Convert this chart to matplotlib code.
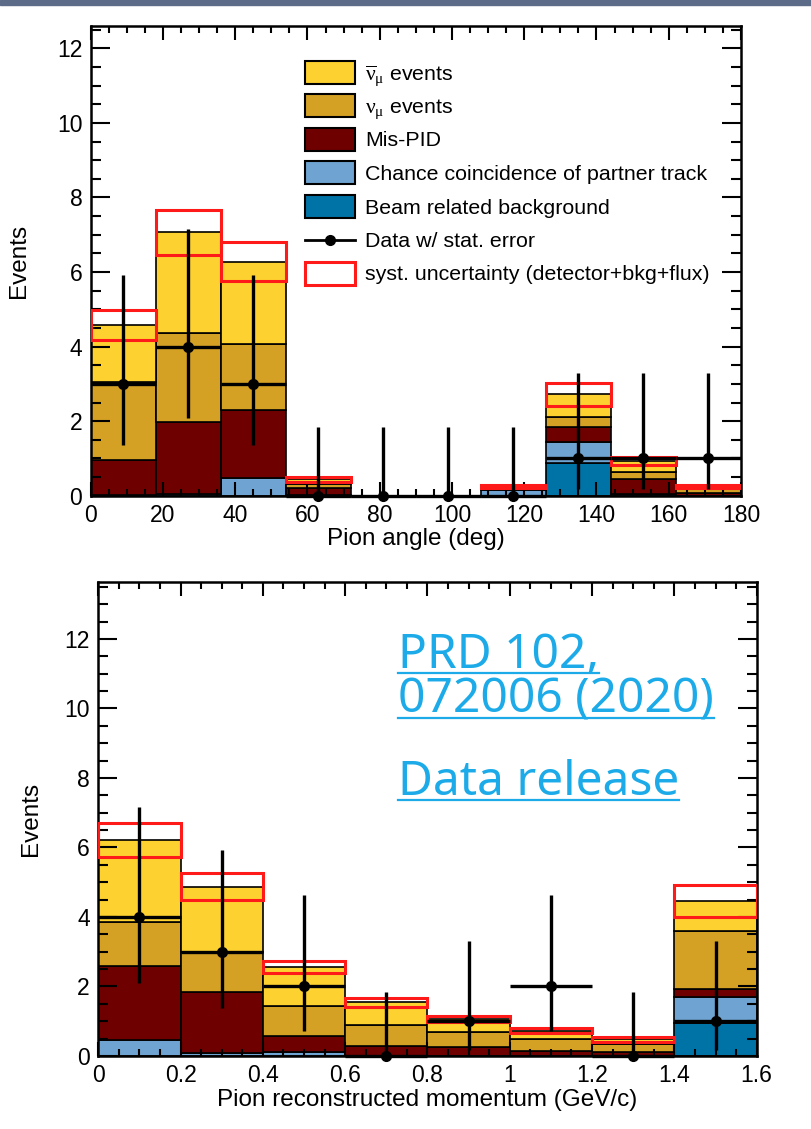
import matplotlib
matplotlib.use("Agg")
import matplotlib.pyplot as plt
from matplotlib.patches import Rectangle
from matplotlib.lines import Line2D
from matplotlib.ticker import MultipleLocator, FormatStrFormatter
import numpy as np

plt.rcParams['font.family'] = ['Liberation Sans', 'DejaVu Sans']
# upright greek for the neutrino labels
plt.rcParams['mathtext.fontset'] = 'custom'
plt.rcParams['mathtext.rm'] = 'Liberation Serif'
plt.rcParams['mathtext.it'] = 'Liberation Serif'

# --- pion angle (deg), 18 deg bins ---
angle_edges = [0, 18, 36, 54, 72, 90, 108, 126, 144, 162, 180]
angle_beam = [0, 0, 0, 0, 0, 0, 0, 0.87, 0.05, 0]
angle_chance = [0.02, 0.05, 0.48, 0.02, 0, 0, 0.15, 0.58, 0, 0]
angle_mispid = [0.94, 1.94, 1.82, 0.20, 0, 0, 0.02, 0.40, 0.40, 0.08]
angle_numu = [2.09, 2.38, 1.77, 0.10, 0, 0, 0.03, 0.27, 0.20, 0.09]
angle_numubar = [1.53, 2.70, 2.21, 0.12, 0, 0, 0.05, 0.60, 0.28, 0.08]
angle_syst = [0.40, 0.60, 0.52, 0.07, 0, 0, 0.04, 0.30, 0.11, 0.04]
angle_data = [3, 4, 3, 0, 0, 0, 0, 1, 1, 1]
angle_err_lo = [1.63, 1.91, 1.63, 0, 0, 0, 0, 0.83, 0.83, 0.83]
angle_err_hi = [2.92, 3.16, 2.92, 1.84, 1.84, 1.84, 1.84, 2.30, 2.30, 2.30]

# --- pion reconstructed momentum (GeV/c), 0.2 bins ---
mom_edges = [0, 0.2, 0.4, 0.6, 0.8, 1.0, 1.2, 1.4, 1.6]
mom_beam = [0, 0, 0, 0, 0, 0, 0, 0.94]
mom_chance = [0.46, 0.08, 0.10, 0, 0, 0, 0, 0.77]
mom_mispid = [2.14, 1.75, 0.48, 0.29, 0.27, 0.15, 0.10, 0.22]
mom_numu = [1.25, 1.17, 0.87, 0.60, 0.43, 0.33, 0.25, 1.68]
mom_numubar = [2.37, 1.87, 1.12, 0.65, 0.37, 0.25, 0.13, 0.85]
mom_syst = [0.49, 0.39, 0.17, 0.12, 0.09, 0.075, 0.07, 0.45]
mom_data = [4, 3, 2, 0, 1, 2, 0, 1]
mom_err_lo = [1.91, 1.63, 1.29, 0, 0.83, 1.29, 0, 0.83]
mom_err_hi = [3.16, 2.92, 2.64, 1.84, 2.30, 2.64, 1.84, 2.30]

legend_labels = [r'$\overline{\nu}_{\mu}$ events',
                 r'$\nu_{\mu}$ events', 'Mis-PID',
                 'Chance coincidence of partner track',
                 'Beam related background', 'Data w/ stat. error',
                 'syst. uncertainty (detector+bkg+flux)']

c_numubar = '#fdd12f'
c_numu = '#d4a124'
c_mispid = '#6e0000'
c_chance = '#6fa4d2'
c_beam = '#0073a6'
c_syst = '#ff1a1a'

W, H = 811, 1129


def draw_panel(ax, edges, comps, syst, data, err_lo, err_hi):
    edges = np.asarray(edges, dtype=float)
    centers = 0.5 * (edges[1:] + edges[:-1])
    widths = np.diff(edges)
    bottom = np.zeros(len(centers))
    for vals, col in comps:
        vals = np.asarray(vals, dtype=float)
        ax.bar(centers, vals, width=widths, bottom=bottom, color=col,
               edgecolor='black', linewidth=1.2, zorder=1)
        bottom = bottom + vals
    syst = np.asarray(syst, dtype=float)
    has = syst > 0
    ax.bar(centers[has], 2 * syst[has], width=widths[has],
           bottom=bottom[has] - syst[has], fill=False,
           edgecolor=c_syst, linewidth=2.2, zorder=3)
    ax.errorbar(centers, data, yerr=[err_lo, err_hi], xerr=widths / 2,
                fmt='o', color='black', ms=7, elinewidth=2.4, capsize=0,
                zorder=4, clip_on=False)


def style_axes(ax, xmaj, xmin, ymax):
    ax.set_ylim(0, ymax)
    ax.xaxis.set_major_locator(MultipleLocator(xmaj))
    ax.xaxis.set_minor_locator(MultipleLocator(xmin))
    ax.yaxis.set_major_locator(MultipleLocator(2))
    ax.yaxis.set_minor_locator(MultipleLocator(0.5))
    ax.tick_params(which='both', direction='in', top=True, right=True,
                   width=1.5, labelsize=16.5, pad=6)
    ax.tick_params(axis='x', which='major', length=10)
    ax.tick_params(axis='x', which='minor', length=5)
    ax.tick_params(axis='y', which='major', length=14)
    ax.tick_params(axis='y', which='minor', length=7)
    for s in ax.spines.values():
        s.set_linewidth(1.8)


fig = plt.figure(figsize=(W / 100, H / 100), dpi=100)
fig.patches.append(Rectangle((0, 1 - 5 / H), 1, 5 / H,
                             transform=fig.transFigure, color='#5b6b88'))

ax1 = fig.add_axes([0.1118, 0.5609, 0.8019, 0.4161])
comps1 = [(angle_beam, c_beam), (angle_chance, c_chance),
          (angle_mispid, c_mispid), (angle_numu, c_numu),
          (angle_numubar, c_numubar)]
draw_panel(ax1, angle_edges, comps1, angle_syst, angle_data,
           angle_err_lo, angle_err_hi)
ax1.set_xlim(0, 180)
style_axes(ax1, 20, 5, 12.6)
ax1.set_xlabel('Pion angle (deg)', fontsize=17.5, va='top')
ax1.xaxis.set_label_coords(0.5, -0.068)
ax1.set_ylabel('Events', fontsize=17.5)
ax1.yaxis.set_label_coords(-0.094, 0.5)

# legend box, laid out row by row in figure pixels
leg_fills = [c_numubar, c_numu, c_mispid, c_chance, c_beam, None, 'white']
row0, drow = 72, 33.5
hx0, hx1, hh = 305, 355, 23
for i, (lab, fc) in enumerate(zip(legend_labels, leg_fills)):
    yc = row0 + i * drow
    if i == 5:
        fig.add_artist(Line2D([hx0 / W, hx1 / W], [1 - yc / H] * 2,
                              color='black', lw=2,
                              transform=fig.transFigure))
        fig.add_artist(Line2D([(hx0 + hx1) / 2 / W], [1 - yc / H],
                              color='black', marker='o', ms=7,
                              transform=fig.transFigure))
    else:
        ec = c_syst if i == 6 else 'black'
        lw = 2.2 if i == 6 else 1.5
        fig.patches.append(Rectangle((hx0 / W, 1 - (yc + hh / 2) / H),
                                     (hx1 - hx0) / W, hh / H,
                                     facecolor=fc, edgecolor=ec, lw=lw,
                                     transform=fig.transFigure))
    fig.text(365 / W, 1 - yc / H, lab, fontsize=15.4, va='center_baseline',
             ha='left')

ax2 = fig.add_axes([0.1212, 0.0647, 0.8118, 0.4201])
comps2 = [(mom_beam, c_beam), (mom_chance, c_chance),
          (mom_mispid, c_mispid), (mom_numu, c_numu),
          (mom_numubar, c_numubar)]
draw_panel(ax2, mom_edges, comps2, mom_syst, mom_data,
           mom_err_lo, mom_err_hi)
ax2.set_xlim(0, 1.6)
style_axes(ax2, 0.2, 0.05, 13.65)
ax2.xaxis.set_major_formatter(FormatStrFormatter('%g'))
ax2.set_xlabel('Pion reconstructed momentum (GeV/c)', fontsize=17.5, va='top')
ax2.xaxis.set_label_coords(0.5, -0.069)
ax2.set_ylabel('Events', fontsize=17.5)
ax2.yaxis.set_label_coords(-0.086, 0.5)

# reference note with underlined lines
ref_lines = [('PRD 102,', 668), ('072006 (2020)', 713), ('Data release', 795)]
fig.canvas.draw()
renderer = fig.canvas.get_renderer()
for txt, ybase in ref_lines:
    t = fig.text(398 / W, 1 - ybase / H, txt, color='#1cabe8',
                 fontsize=34.5, family=['Noto Sans', 'DejaVu Sans'],
                 fontweight='light', va='baseline', ha='left')
    bb = t.get_window_extent(renderer=renderer)
    yl = 1 - (ybase + 5) / H
    fig.add_artist(Line2D([bb.x0 / fig.bbox.width, bb.x1 / fig.bbox.width],
                          [yl, yl], color='#1cabe8', lw=1.6,
                          transform=fig.transFigure))

fig.savefig('out.png', dpi=100)
